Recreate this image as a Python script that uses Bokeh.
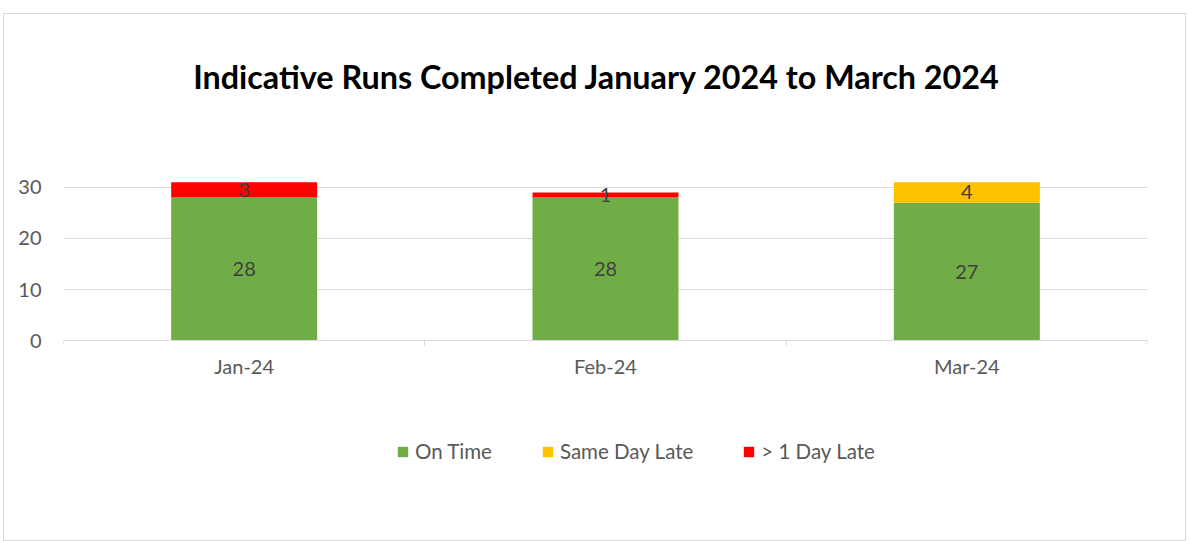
from bokeh.plotting import figure
from bokeh.models import ColumnDataSource, LabelSet, Label, Range1d, FixedTicker, Legend, LegendItem
from bokeh.core.properties import value
from bokeh.embed import file_html
from bokeh.resources import INLINE

categories = ["Jan-24", "Feb-24", "Mar-24"]
on_time = [28, 28, 27]
same_day_late = [0, 0, 4]
over_1_day_late = [3, 1, 0]
series_names = ["On Time", "Same Day Late", "> 1 Day Late"]
series_colors = ["#70AD47", "#FFC000", "#FF0000"]
y_ticks = [0, 10, 20, 30]
title_text = "Indicative Runs Completed January 2024 to March 2024"

FONT = "Lato"
xs = [i + 0.5 for i in range(len(categories))]

# frame covers the whole chart box; axis is pinned at y=0, title and legend sit inside the frame
p = figure(width=1183, height=528, output_backend="svg", toolbar_location=None,
           x_range=Range1d(0, len(categories)), y_range=Range1d(-27.5, 63.78),
           min_border_left=59, min_border_right=40, min_border_top=0, min_border_bottom=61)
p.styles = {"border": "1px solid #d9d9d9", "box-sizing": "border-box",
            "margin-left": "3px", "margin-top": "13px"}

p.outline_line_color = None
p.background_fill_color = "white"
p.border_fill_color = "white"

p.add_layout(Label(x=1.476, y=51.66, text=title_text, text_align="center", text_baseline="middle",
                   text_font=FONT, text_font_style="bold", text_font_size="32.3px",
                   text_color="#000000"))

src = ColumnDataSource(dict(x=xs, on_time=on_time, same_day=same_day_late, late=over_1_day_late))
renderers = p.vbar_stack(["on_time", "same_day", "late"], x="x", width=0.404, source=src,
                         fill_color=series_colors, line_color=None)

# data labels
lx, ly, lt = [], [], []
for i, x in enumerate(xs):
    bottom = 0
    for vals in (on_time, same_day_late, over_1_day_late):
        v = vals[i]
        if v:
            lx.append(x); ly.append(bottom + v / 2); lt.append(str(v))
        bottom += v
lab_src = ColumnDataSource(dict(x=lx, y=ly, t=lt))
p.add_layout(LabelSet(x="x", y="y", text="t", source=lab_src, text_align="center",
                      text_baseline="middle", text_font=value(FONT), text_font_size="20px",
                      text_color="#404040"))

# axes
p.yaxis.ticker = FixedTicker(ticks=y_ticks)
p.yaxis.axis_line_color = None
p.yaxis.major_tick_line_color = None
p.yaxis.minor_tick_line_color = None
p.yaxis.major_tick_out = 0
p.yaxis.major_label_standoff = 22
p.yaxis.major_label_text_font = FONT
p.yaxis.major_label_text_font_size = "20px"
p.yaxis.major_label_text_color = "#595959"

p.xaxis.fixed_location = 0
p.xaxis.ticker = FixedTicker(ticks=xs, minor_ticks=list(range(len(categories) + 1)))
p.xaxis.major_label_overrides = {x: c for x, c in zip(xs, categories)}
p.xaxis.axis_line_color = "#d9d9d9"
p.xaxis.axis_line_width = 1
p.xaxis.major_tick_line_color = None
p.xaxis.major_tick_out = 0
p.xaxis.minor_tick_line_color = "#d9d9d9"
p.xaxis.minor_tick_out = 5
p.xaxis.minor_tick_in = 0
p.xaxis.major_label_standoff = 8
p.xaxis.major_label_text_font = FONT
p.xaxis.major_label_text_font_size = "20px"
p.xaxis.major_label_text_color = "#595959"

p.xgrid.grid_line_color = None
p.ygrid.grid_line_color = "#d9d9d9"
p.ygrid.ticker = FixedTicker(ticks=y_ticks)

legend = Legend(items=[LegendItem(label=n, renderers=[r]) for n, r in zip(series_names, renderers)],
                orientation="horizontal", location=(333, 18), glyph_width=13, glyph_height=13,
                label_standoff=6, spacing=49, padding=4, margin=0, border_line_color=None,
                label_text_font=FONT, label_text_font_size="20.5px", label_text_color="#595959",
                background_fill_alpha=0)
p.add_layout(legend, "center")

open("out.html", "w").write(file_html(p, INLINE))
